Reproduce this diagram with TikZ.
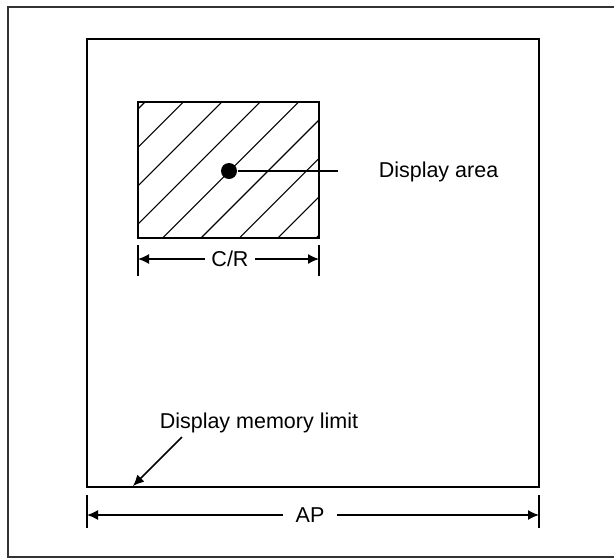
\documentclass[tikz,border=0pt]{standalone}
\usepackage{fontspec}
\setmainfont{Liberation Sans}
\usetikzlibrary{arrows.meta}
\usetikzlibrary{positioning}
\tikzset{dot/.style = {fill, circle, inner sep = 0, minimum size = 16}}
\tikzset{lbl/.style = {font = \fontsize{21.5}{25}\selectfont, inner sep = 1}}
\tikzset{dim/.style = {-{Latex[length = 11, width = 10]}}}

\begin{document}
\begin{tikzpicture}[x=1pt, y=-1pt, line width=1.5]
    \useasboundingbox (0, 0) rectangle (614, 558);
    % frame and memory
    \draw[line width=2, black!80] (620, 7) -- (8, 7) -- (8, 557) -- (620, 557);
    \draw[line width=1.8] (87, 39) rectangle (539, 487);
    % hatched display area
    \begin{scope}
      \clip (138, 102) rectangle (319, 238);
      \foreach \c in {0,...,8}{
        \draw[line width=1.1] ({247 + 38.4*\c - 250}, 250) -- ({247 + 38.4*\c - 90}, 90);
      }
    \end{scope}
    \draw[line width=1.8] (138, 102) rectangle (319, 238);
    \node [dot] (area) at (229, 171) {};
    \coordinate (areaend) at (338, 171);
    \draw (area) -- (areaend);
    \node [lbl, anchor=west] (arealbl) at (377, 172) {Display area};
    % C/R
    \draw (138, 245) -- (138, 276);
    \draw (319, 245) -- (319, 276);
    \coordinate (crl) at (138, 259);
    \coordinate (crr) at (319, 259);
    \node [lbl, inner xsep=6] (cr) at (230, 259) {C/R};
    \draw[dim] (cr) -- (crl);
    \draw[dim] (cr) -- (crr);
    % AP
    \draw (87, 495) -- (87, 528);
    \draw (539, 495) -- (539, 528);
    \coordinate (apl) at (87, 515);
    \coordinate (apr) at (539, 515);
    \node [lbl, inner xsep=12] (ap) at (310, 515) {AP};
    \draw[dim] (ap) -- (apl);
    \draw[dim] (ap) -- (apr);
    % memory limit
    \node [lbl, anchor=west] (memlbl) at (158, 423) {Display memory limit};
    \coordinate (memtail) at (182, 437);
    \coordinate (memhead) at (133, 486);
    \draw[dim] (memtail) -- (memhead);
  \end{tikzpicture}
\end{document}
